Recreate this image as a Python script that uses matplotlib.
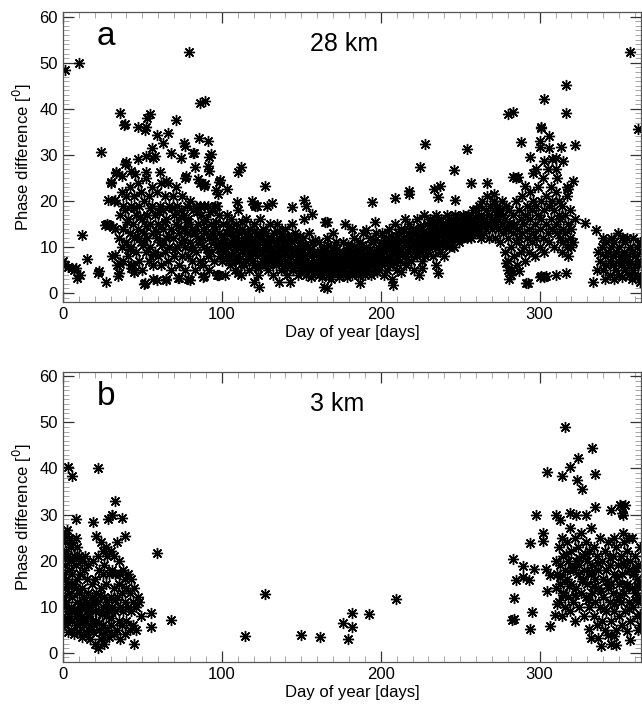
import matplotlib
matplotlib.use('Agg')
import matplotlib.pyplot as plt
import numpy as np
from matplotlib.ticker import MultipleLocator

plt.rcParams['font.family'] = ['Liberation Sans', 'DejaVu Sans']

# ---- panel a : 28 km ----
a_day_early = [0, 1, 1, 3, 6, 7, 8, 9, 10, 11, 12, 15, 22, 24, 27, 28, 29]
a_ph_early = [7, 6, 48.5, 5.6, 5.5, 5, 5.5, 3.3, 50, 4, 12.6, 7.5, 4.3, 30.6, 2.5, 15, 14.7]

a_day_spring = [32, 33, 30, 33.5, 31, 34, 34.5, 36, 38.5, 39, 38, 43, 45, 47, 51.5, 51, 54.5, 53, 56, 57,
                59, 63, 66, 71, 68, 74, 77, 79.5, 82, 83, 77, 85.5, 86.5, 89.5, 91, 92, 91, 92, 86, 89,
                98, 97.5, 97, 56.5, 65, 73, 79, 89, 98, 39, 52, 76.5, 82.5, 93, 40, 47.5, 52.5, 58, 33.5,
                37, 43, 45.5, 52.5, 61, 65, 30.5, 77.5, 85, 89.5, 99, 96.5, 28.5, 32.5, 26.5, 31.5,
                32.5, 36, 35, 22.5, 43, 45, 51.5, 59, 65, 72.5, 80, 88, 97.5,
                35, 36, 37, 37, 38, 38, 39, 40, 40, 41, 41, 42, 42, 43, 43, 44, 44, 45, 45, 46, 46, 47,
                47, 48, 48, 49, 49, 50, 50, 51, 51, 52, 52, 53, 53, 54, 54, 55, 55, 56, 56, 57, 57, 58,
                58, 59, 59, 60, 60, 61, 61, 62, 62, 63, 63, 64, 64, 65, 65, 66, 66, 67, 67, 68, 68, 69,
                69, 70, 70, 71, 71, 72, 72, 73, 73, 74, 74, 75, 75, 76, 76, 77, 77, 78, 78, 79, 79, 80,
                80, 81, 81, 82, 82, 83, 83, 84, 84, 85, 85, 86, 86, 87, 87, 88, 88, 89, 89, 90, 90, 91,
                91, 92, 92, 93, 93, 94, 94, 95, 95, 96, 96, 97, 97, 98, 98, 99, 99,
                40.5, 42.5, 44.5, 46.5, 48.5, 50.5, 52.5, 54.5, 56.5, 58.5, 60.5, 62.5, 64.5, 66.5, 68.5,
                70.5, 72.5, 74.5, 76.5, 78.5, 80.5, 82.5, 84.5, 86.5, 88.5, 90.5, 92.5, 94.5, 96.5, 98.5]
a_ph_spring = [20, 14, 24, 26, 8, 6, 3.8, 39, 36.4, 28, 19, 5.5, 4.5, 36, 35.5, 2, 38.9, 38, 31.5, 29.3,
               34.3, 32.5, 34.7, 37.6, 30.5, 29.3, 32, 52.3, 30.4, 27.3, 25, 33.7, 41.3, 41.8, 33, 29.5, 27.5,
               26.5, 24, 23.2, 24.1, 21.6, 19, 3, 3, 3.3, 3, 3.7, 4, 36.8, 36, 32.5, 30.5, 30.2, 28.4, 29,
               29.8, 29.8, 26.2, 25.5, 26.6, 25.8, 26.2, 26.2, 24.4, 24.1, 25.5, 24.8, 23.7, 24.5, 22.3,
               20.2, 20.2, 14.7, 14.4, 8.2, 6.4, 4.3, 4.9, 6.1, 4.6, 2.3, 2.8, 2.8, 3.2, 2.8, 3.5, 3.9,
               12, 17, 22, 10, 14, 7, 18, 11, 21, 16, 8, 13, 23, 19, 10, 15, 6, 21, 12, 17, 9, 24,
               14, 7, 19, 11, 22, 16, 5, 13, 20, 9, 25, 17, 12, 7, 21, 15, 10, 19, 23, 13, 6, 17,
               9, 22, 12, 15, 8, 19, 11, 24, 6, 14, 18, 9, 21, 12, 16, 7, 24, 19, 10, 14, 5, 21,
               12, 17, 8, 15, 23, 10, 19, 13, 6, 18, 11, 21, 8, 14, 17, 10, 5, 19, 13, 8, 16, 11,
               20, 14, 7, 18, 10, 13, 5, 19, 9, 15, 12, 19, 7, 11, 17, 14, 6, 19, 10, 13, 16, 8,
               19, 12, 5, 15, 9, 13, 18, 11, 7, 14, 19, 10, 4, 13, 17, 11, 8,
               15.5, 9.5, 18.5, 12.5, 16.5, 10.5, 14.5, 18.5, 8.5, 13.5, 17.5, 10.5, 15.5, 12.5, 18.5,
               9.5, 14.5, 16.5, 11.5, 15.5, 9.5, 13.5, 17.5, 11.5, 15.5, 9.5, 17.5, 11.5, 15.5, 9.5]

a_day_summer = [100, 100, 101, 101, 102, 102, 103, 103, 104, 104, 105, 105, 106, 106, 107, 107, 108, 108,
                109, 109, 110, 110, 111, 111, 112, 112, 113, 113, 114, 114, 115, 115, 116, 116, 117, 117,
                118, 118, 119, 119, 120, 120, 121, 121, 122, 122, 123, 123, 124, 124, 125, 125, 126, 126,
                127, 127, 128, 128, 129, 129, 130, 130, 131, 131, 132, 132, 133, 133, 134, 134, 135, 135,
                136, 136, 137, 137, 138, 138, 139, 139, 140, 140, 141, 141, 142, 142, 143, 143, 144, 144,
                145, 145, 146, 146, 147, 147, 148, 148, 149, 149, 150, 150, 151, 151, 152, 152, 153, 153,
                154, 154, 155, 155, 156, 156, 157, 157, 158, 158, 159, 159,
                103, 110, 112, 109.5, 120.5, 121, 127, 128.5, 131.5, 144, 152, 153, 157, 120.5, 123.5,
                110, 136, 143, 119, 122,
                160, 160, 161, 161, 162, 162, 163, 163, 164, 164, 165, 165, 166, 166, 167, 167, 168, 168,
                169, 169, 170, 170, 171, 171, 172, 172, 173, 173, 174, 174, 175, 175, 176, 176, 177, 177,
                178, 178, 179, 179, 180, 180, 181, 181, 182, 182, 183, 183, 184, 184, 185, 185, 186, 186,
                187, 187, 188, 188, 189, 189, 190, 190, 191, 191, 192, 192, 193, 193, 194, 194, 195, 195,
                196, 196, 197, 197, 198, 198, 199, 199,
                164.5, 166, 165, 177.4, 187, 191, 194.6, 196.6, 166, 170, 182]
a_ph_summer = [12, 7, 15, 9, 11, 4, 13, 17, 8, 10, 14, 6, 11, 16, 9, 13, 5, 12,
               15, 8, 10, 18, 7, 13, 11, 4, 14, 9, 12, 6, 16, 10, 8, 13, 11, 5,
               14, 9, 7, 12, 10, 15, 6, 11, 13, 8, 10, 4, 12, 16, 7, 9, 11, 14,
               6, 10, 13, 8, 5, 11, 9, 15, 7, 12, 10, 4, 13, 8, 6, 11, 9, 15,
               7, 12, 5, 10, 8, 13, 6, 11, 9, 14, 4, 7, 10, 12, 6, 8, 11, 15,
               5, 9, 7, 13, 6, 10, 8, 4, 11, 7, 5, 9, 12, 6, 8, 16, 4, 7,
               10, 6, 5, 13, 8, 3.5, 6, 11, 4.5, 9, 7, 5,
               22.5, 26.3, 27.3, 19.8, 19.4, 19, 23.2, 19, 19.5, 18.7, 20.1, 19, 17.2, 2.5, 1.4,
               4.3, 2.5, 2.5, 20, 19,
               6, 9, 4, 11, 7, 5, 8, 3.5, 6, 10, 5, 8, 7, 12, 4, 6, 9, 5,
               7, 3, 6, 10, 4.5, 8, 6, 11, 5, 7, 9, 3.5, 6, 8, 4, 11, 7, 5,
               9, 6, 3.5, 8, 6, 10, 5, 7, 9, 4, 6, 12, 8, 5, 7, 10, 4, 6,
               9, 11, 5, 7, 8, 13, 6, 4, 10, 7, 5, 9, 12, 6, 8, 4, 7, 11,
               9, 5, 6, 13, 8, 10, 5, 7,
               1.3, 15.4, 15.5, 14.9, 2.2, 13.8, 19.8, 15.5, 1.1, 13, 14]

# extra points filling the dense summer band (half days)
a_day_band = [100.5, 101.5, 102.5, 103.5, 104.5, 105.5, 106.5, 107.5, 108.5, 109.5, 110.5, 111.5, 112.5,
              113.5, 114.5, 115.5, 116.5, 117.5, 118.5, 119.5, 120.5, 121.5, 122.5, 123.5, 124.5, 125.5,
              126.5, 127.5, 128.5, 129.5, 130.5, 131.5, 132.5, 133.5, 134.5, 135.5, 136.5, 137.5, 138.5,
              139.5, 140.5, 141.5, 142.5, 143.5, 144.5, 145.5, 146.5, 147.5, 148.5, 149.5, 150.5, 151.5,
              152.5, 153.5, 154.5, 155.5, 156.5, 157.5, 158.5, 159.5, 160.5, 161.5, 162.5, 163.5, 164.5,
              165.5, 166.5, 167.5, 168.5, 169.5, 170.5, 171.5, 172.5, 173.5, 174.5, 175.5, 176.5, 177.5,
              178.5, 179.5, 180.5, 181.5, 182.5, 183.5, 184.5, 185.5, 186.5, 187.5, 188.5, 189.5, 190.5,
              191.5, 192.5, 193.5, 194.5, 195.5, 196.5, 197.5, 198.5, 199.5,
              200.5, 201.5, 202.5, 203.5, 204.5, 205.5, 206.5, 207.5, 208.5, 209.5, 210.5, 211.5, 212.5,
              213.5, 214.5, 215.5, 216.5, 217.5, 218.5, 219.5, 220.5, 221.5, 222.5, 223.5, 224.5, 225.5,
              226.5, 227.5, 228.5, 229.5, 230.5, 231.5, 232.5, 233.5, 234.5, 235.5, 236.5, 237.5, 238.5,
              239.5, 240.5, 241.5, 242.5, 243.5, 244.5, 245.5, 246.5, 247.5, 248.5, 249.5, 250.5, 251.5,
              252.5, 253.5, 254.5, 255.5, 256.5, 257.5, 258.5, 259.5]
a_ph_band = [9.5, 12.5, 7.5, 10.5, 14.5, 8.5, 6.5, 11.5, 9.5, 13.5, 7.5, 10.5, 15.5,
             6.5, 9.5, 12.5, 10.5, 7.5, 11.5, 8.5, 13.5, 9.5, 5.5, 11.5, 8.5, 12.5,
             6.5, 9.5, 10.5, 7.5, 11.5, 8.5, 6.5, 10.5, 13.5, 7.5, 9.5, 11.5, 5.5,
             8.5, 10.5, 12.5, 7.5, 9.5, 5.5, 11.5, 8.5, 6.5, 9.5, 12.5, 7.5, 4.5,
             10.5, 8.5, 5.5, 9.5, 6.5, 8.5, 11.5, 6.5, 4.5, 8.5, 6.5, 9.5, 5.5,
             7.5, 10.5, 5.5, 7.5, 4.5, 8.5, 6.5, 9.5, 4.5, 7.5, 5.5, 8.5, 6.5,
             4.5, 10.5, 7.5, 5.5, 8.5, 6.5, 9.5, 4.5, 7.5, 5.5, 10.5, 6.5, 8.5,
             5.5, 7.5, 9.5, 6.5, 8.5, 11.5, 4.5, 7.5, 9.5,
             9.5, 7.5, 11.5, 9.5, 6.5, 10.5, 12.5, 8.5, 10.5, 6.5, 12.5, 9.5, 11.5,
             8.5, 13.5, 10.5, 7.5, 11.5, 12.5, 9.5, 13.5, 10.5, 8.5, 12.5, 14.5, 10.5,
             11.5, 13.5, 9.5, 12.5, 14.5, 10.5, 12.5, 15.5, 11.5, 13.5, 12.5, 15.5, 10.5,
             13.5, 14.5, 12.5, 15.5, 13.5, 11.5, 14.5, 16.5, 12.5, 14.5, 13.5, 15.5, 14.5,
             12.5, 15.5, 13.5, 16.5, 14.5, 13.5, 15.5, 16.5]

a_day_autumn = [200, 200, 201, 201, 202, 202, 203, 203, 204, 204, 205, 205, 206, 206, 207, 207, 208, 208,
                209, 209, 210, 210, 211, 211, 212, 212, 213, 213, 214, 214, 215, 215, 216, 216, 217, 217,
                218, 218, 219, 219, 220, 220, 221, 221, 222, 222, 223, 223, 224, 224, 225, 225, 226, 226,
                227, 227, 228, 228, 229, 229, 230, 230, 231, 231, 232, 232, 233, 233, 234, 234, 235, 235,
                236, 236, 237, 237, 238, 238, 239, 239, 240, 240, 241, 241, 242, 242, 243, 243, 244, 244,
                245, 245, 246, 246, 247, 247, 248, 248, 249, 249, 250, 250, 251, 251, 252, 252, 253, 253,
                254, 254, 255, 255, 256, 256, 257, 257, 258, 258, 259, 259,
                207.5, 209, 217.6, 218, 224.5, 227.7, 233.5, 237, 236, 235, 236, 246, 254, 247, 257, 224, 226]
a_ph_autumn = [8, 11, 6, 13, 9, 4, 7, 12, 10, 5, 8, 14, 6, 11, 9, 3, 12, 7,
               10, 15, 8, 5, 11, 13, 7, 9, 14, 4.5, 10, 12, 8, 16, 11, 6, 13, 9,
               10, 15, 7, 12, 11, 14, 9, 5, 13, 10, 16, 8, 12, 11, 9, 14, 13, 7,
               10, 17, 12, 8, 15, 11, 9, 13, 12, 16, 10, 14, 8, 13, 15, 11, 12, 17,
               10, 14, 13, 9, 16, 11, 14, 12, 13, 8, 15, 11, 12, 17, 14, 10, 16, 13,
               12, 15, 14, 10, 13, 17, 15, 12, 14, 11, 16, 13, 15, 12, 14, 17, 13, 16,
               15, 12, 14, 17, 13, 15, 16, 12, 14, 18, 15, 13,
               1.8, 20.7, 21.5, 22.2, 27.3, 32.3, 22.5, 23.3, 20.8, 6.1, 4.3, 26.7, 31.2, 20.2, 23.8, 4, 5.5]

a_day_late = [260, 260, 261, 261, 262, 262, 263, 263, 264, 264, 265, 265, 266, 266, 267, 267, 268, 268,
              269, 269, 270, 270, 271, 271, 272, 272, 273, 273, 274, 274, 275, 275, 276, 276, 277, 277,
              278, 278, 279, 279, 280, 280, 281, 281, 282, 282, 283, 283, 284, 284, 285, 285, 286, 286,
              287, 287, 288, 288, 289, 289, 290, 290, 291, 291, 292, 292, 293, 293, 294, 294, 295, 295,
              296, 296, 297, 297, 298, 298, 299, 299, 300, 300, 301, 301, 302, 302, 303, 303, 304, 304,
              305, 305, 306, 306, 307, 307, 308, 308, 309, 309, 310, 310, 311, 311, 312, 312, 313, 313,
              314, 314, 315, 315, 316, 316, 317, 317, 318, 318, 319, 319, 320, 320, 321, 322,
              281, 280, 282, 279,
              280, 283, 301, 288, 293.7, 285, 283, 286.4, 290.6, 266.7, 271, 300.5, 300, 306, 303, 316.8,
              316.3, 300.6, 306, 322, 313.6, 303, 308, 310.5, 315, 310, 321, 317.8, 317, 328.3, 335.6,
              333.5, 316.5, 310, 303, 300, 292.6, 291.5, 287, 301, 304, 298, 296,
              338, 339, 340, 340, 341, 342, 342, 343, 344, 344, 345, 345, 346, 346, 347, 347, 348, 348,
              349, 349, 350, 350, 351, 351, 352, 352, 353, 353, 354, 354, 355, 355, 356, 356, 357, 357,
              358, 358, 359, 359, 360, 360, 361, 361, 362, 362, 363, 363, 364, 364, 337, 336, 341,
              357, 362]
a_ph_late = [15, 18, 13, 16, 14, 19, 17, 12, 15, 20, 16, 13, 18, 14, 15, 21, 17, 12,
             19, 15, 16, 14, 18, 20, 15, 12, 17, 19, 14, 16, 18, 11, 15, 20, 13, 17,
             16, 9, 14, 19, 12, 7, 15, 18, 10, 5, 13, 17, 8, 15, 11, 20, 14, 6,
             12, 18, 9, 16, 13, 21, 10, 15, 17, 7, 12, 19, 14, 9, 16, 22, 11, 18,
             13, 20, 15, 8, 19, 12, 17, 23, 14, 10, 20, 16, 12, 25, 18, 9, 15, 21,
             13, 27, 19, 11, 16, 23, 14, 20, 18, 10, 22, 15, 13, 25, 17, 20, 12, 16,
             19, 9, 14, 11, 17, 13, 10, 21, 15, 8, 12, 18, 14, 10, 11, 16,
             3.1, 5, 4, 6.5,
             38.8, 39.2, 36, 32.9, 29.5, 24.9, 25.1, 25.1, 23.3, 24, 21.5, 33.1, 31.7, 31.4, 42.2, 45.2,
             39, 35.9, 34.1, 32.1, 31.7, 28.7, 29.1, 29.4, 28.7, 26.9, 24.4, 22.6, 23, 15.2, 13.8,
             2.5, 4.4, 3.9, 3.5, 3.5, 2.2, 2.2, 4.9, 3.7, 3.7, 27, 26,
             7, 10, 5, 12, 8, 6, 11, 9, 4, 7, 12, 10, 6, 8, 3, 11, 9, 5,
             7, 13, 4, 10, 8, 6, 12, 3.5, 9, 7, 5, 11, 8, 12, 4, 6, 10, 7,
             3, 9, 12, 5, 8, 6, 3.5, 10, 7, 4, 11, 2.5, 6, 9, 9, 5, 3,
             52.3, 35.7]

# ---- panel b : 3 km ----
b_day_winter = [0, 0, 0, 0, 0, 0, 1, 1, 1, 1, 1, 2, 2, 2, 2, 2, 3, 3, 3, 3, 3, 4, 4, 4, 4, 5, 5, 5, 5, 5,
                6, 6, 6, 6, 6, 7, 7, 7, 7, 8, 8, 8, 8, 8, 9, 9, 9, 9, 10, 10, 10, 10, 11, 11, 11, 12, 12,
                12, 12, 13, 13, 13, 14, 14, 14, 15, 15, 15, 16, 16, 16, 17, 17, 17, 18, 18, 18, 19, 19,
                19, 19, 20, 20, 20, 21, 21, 21, 22, 22, 22, 22, 23, 23, 23, 24, 24, 24, 25, 25, 25, 25,
                26, 26, 26, 27, 27, 27, 28, 28, 28, 29, 29, 29, 30, 30, 30, 31, 31, 31, 32, 32, 32, 33,
                33, 33, 34, 34, 34, 35, 35, 35, 36, 36, 36, 37, 37, 37, 38, 38, 39, 39, 39, 39, 40, 40,
                41, 41, 42, 42, 43, 43, 44, 44, 45, 45, 46, 46, 47, 48, 49, 28.5, 30.6, 2.3,
                55.6, 55.6, 58.9, 68.2,
                10.5, 12.5, 14.5, 16.5, 18.5, 20.5, 22.5, 24.5, 26.5, 28.5, 30.5, 32.5, 15.5, 23.5, 25.5]
b_ph_winter = [25, 21, 17, 12, 8, 5.5, 24, 19, 14, 10, 6, 26, 22, 16, 11, 7, 40.3, 21, 15, 9, 4.5, 25, 18,
               13, 8, 23, 20, 15, 10, 5, 38.3, 24, 17, 12, 7, 21, 15, 9, 4, 29, 25, 19, 14, 8, 23, 16, 11,
               6, 21, 13, 9, 4.5, 17, 10, 7, 20, 14, 8, 3.5, 18, 12, 6, 21, 10, 7, 16, 11, 4, 19, 13, 8,
               10, 6, 3, 15, 12, 7, 28.3, 20, 11, 4.5, 16, 9, 2, 25.4, 13, 7, 40, 21, 11, 1, 18, 9, 5,
               24, 14, 3, 22, 17, 10, 6, 19, 12, 2, 23, 15, 8, 21, 11, 5, 17, 9, 3.5, 22, 12, 6, 30,
               18, 10, 21, 14, 4, 33, 17, 9, 24, 12, 5, 20, 15, 7, 17, 10, 3, 29.2, 13, 6, 18, 9, 25.3,
               16, 11, 4, 14, 7, 17, 10, 13, 5, 16, 9, 11, 6, 1.8, 14, 10, 5, 12, 11, 8, 29, 30, 26.6,
               8.6, 5.7, 21.7, 7.1,
               7.5, 10.5, 4.5, 9.5, 5.5, 11.5, 6.5, 8.5, 4.5, 9.5, 7.5, 11.5, 8.5, 12.5, 3.5]

b_day_summer = [114.5, 127.4, 150, 162, 179.5, 176.3, 181.6, 181.6, 192.6, 209.8]
b_ph_summer = [3.7, 12.7, 3.9, 3.5, 2.9, 6.4, 5.7, 8.6, 8.4, 11.7]

b_day_autumn = [282.4, 283.7, 283.7, 283.2, 285.3, 289.5, 289.5, 293.3, 296.2, 295.2, 294.2, 298, 294,
                302.4, 302.4, 303.8, 304.5, 306.6, 306.6, 309.7, 310.8, 304.8, 314, 315.7, 318.9, 324.1,
                333.1, 334.9, 323.5, 326.6, 310.4, 312.6, 318.9, 323.1, 329.4, 334.6, 345, 353.5, 352.4,
                350.5, 351.6, 331, 336.6, 343.3, 346.5, 355, 357, 338.3, 345, 348.2, 332.4,
                310, 310, 311, 312, 312, 313, 313, 314, 314, 315, 315, 316, 316, 317, 317, 318, 318, 319,
                319, 320, 320, 321, 321, 322, 322, 323, 323, 324, 324, 325, 325, 326, 326, 327, 327, 328,
                328, 329, 329, 330, 330, 331, 331, 332, 332, 333, 333, 334, 334, 335, 335, 336, 336, 337,
                337, 338, 338, 339, 339, 340, 340, 341, 341, 342, 342, 343, 343, 344, 344, 345, 345, 346,
                346, 347, 347, 348, 348, 349, 349, 350, 350, 351, 351, 352, 352, 353, 353, 354, 354, 355,
                355, 356, 356, 357, 357, 358, 358, 359, 359, 360, 360, 361, 361, 362, 362, 363, 363, 364,
                364, 350.5, 346.7, 352.4, 356, 360.8, 361.8, 362.9, 361.8,
                312.5, 314.5, 316.5, 318.5, 320.5, 322.5, 324.5, 326.5, 328.5, 330.5, 332.5, 334.5, 336.5,
                338.5, 340.5, 342.5, 344.5, 346.5, 348.5, 350.5, 352.5, 354.5, 356.5, 358.5, 360.5, 362.5]
b_ph_autumn = [7.1, 7.3, 11.9, 20.3, 15.8, 18.9, 16.5, 15.8, 18.2, 8.8, 5.2, 29.9, 23.9,
               24.2, 26, 18.2, 13.5, 16.8, 5.9, 8.1, 10.6, 39.3, 38.3, 49, 40.3, 42.2,
               44.4, 38.8, 37.4, 35.5, 29.9, 28.8, 30.3, 29.9, 29.9, 31.7, 31, 32, 29.9,
               32, 30.3, 5.2, 3.3, 3.8, 3.6, 4.8, 2.8, 1.4, 1.9, 1.7, 3.2,
               20, 14, 17, 23, 11, 19, 15, 25, 8, 21, 13, 18, 10, 24, 16, 12, 20, 27,
               9, 22, 15, 18, 11, 25, 7, 20, 14, 17, 23, 10, 19, 26, 13, 16, 21, 8,
               18, 24, 12, 20, 15, 10, 22, 17, 27, 13, 19, 8, 23, 16, 11, 21, 6, 18,
               14, 25, 10, 20, 7, 16, 12, 22, 5, 18, 9, 14, 24, 11, 19, 7, 15, 21,
               13, 17, 9, 23, 5, 12, 19, 15, 8, 21, 11, 17, 6, 13, 24, 19, 9, 15,
               22, 11, 18, 7, 20, 14, 25, 10, 17, 21, 13, 8, 16, 19, 11, 23, 6, 15,
               12, 32, 24.9, 25.9, 24.9, 18.5, 14.2, 8.5, 4.9,
               16.5, 12.5, 21.5, 14.5, 18.5, 12.5, 20.5, 15.5, 21.5, 11.5, 17.5, 14.5, 19.5,
               13.5, 9.5, 15.5, 20.5, 10.5, 16.5, 12.5, 19.5, 14.5, 9.5, 17.5, 11.5, 15.5]

panels = [
    ('a', '28 km',
     a_day_early + a_day_spring + a_day_summer + a_day_band + a_day_autumn + a_day_late,
     a_ph_early + a_ph_spring + a_ph_summer + a_ph_band + a_ph_autumn + a_ph_late),
    ('b', '3 km',
     b_day_winter + b_day_summer + b_day_autumn,
     b_ph_winter + b_ph_summer + b_ph_autumn),
]

fig = plt.figure(figsize=(6.42, 7.08), dpi=100)
rects = [[0.098, 0.573, 0.901, 0.410], [0.098, 0.065, 0.901, 0.410]]

for (letter, height, days, phase), rect in zip(panels, rects):
    ax = fig.add_axes(rect)
    ax.plot(days, phase, ls='none', marker=(8, 2, 0), ms=8, mew=1.0, color='k')
    ax.set_xlim(0, 364)
    ax.set_ylim(-2, 61)
    ax.xaxis.set_major_locator(MultipleLocator(100))
    ax.xaxis.set_minor_locator(MultipleLocator(10))
    ax.yaxis.set_major_locator(MultipleLocator(10))
    ax.yaxis.set_minor_locator(MultipleLocator(1))
    ax.tick_params(which='both', direction='in', top=True, right=True, labelsize=12,
                   color='#333333')
    ax.tick_params(which='major', length=8, width=0.9)
    ax.tick_params(which='minor', length=4, width=0.6, color='#999999')
    for sp in ax.spines.values():
        sp.set_color('#555555')
        sp.set_linewidth(0.9)
    ax.set_xlabel('Day of year [days]', fontsize=12, labelpad=2)
    ax.set_ylabel('Phase difference [$^0$]', fontsize=12, labelpad=4)
    ax.text(0.059, 0.885, letter, transform=ax.transAxes, fontsize=24)
    ax.text(0.427, 0.865, height, transform=ax.transAxes, fontsize=18)

fig.savefig('out.png', dpi=100)
